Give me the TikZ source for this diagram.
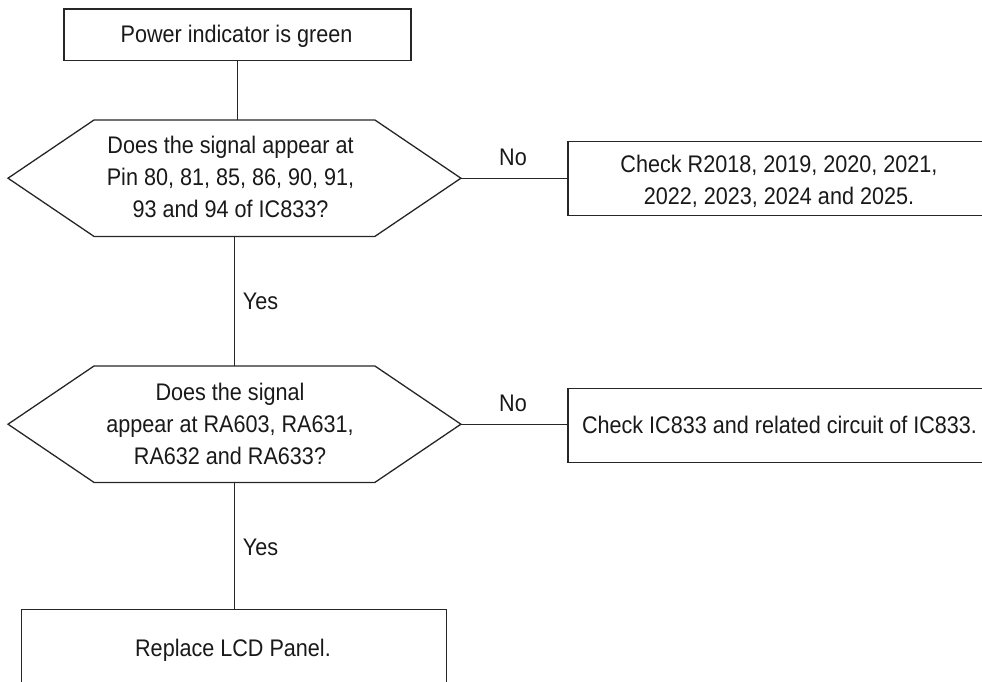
\documentclass[tikz,border=0pt]{standalone}
\usepackage{fontspec}
\setmainfont[FakeStretch=0.90]{Liberation Sans}
\usetikzlibrary{calc}
\tikzset{
  x=1pt,y=-1pt,
  line/.style={line width=1.3pt,draw=black!85},
  boxn/.style={line,rectangle,inner sep=0pt,anchor=north west},
  area/.style={inner sep=0pt,anchor=north west},
  txt/.style={font=\fontsize{24}{32}\selectfont,align=center,inner sep=0pt,text=black!90},
  one/.style={txt,anchor=base}
}
\begin{document}
\begin{tikzpicture}
\useasboundingbox (0,0) rectangle (982,682);
\clip (0,0) rectangle (982,682);
% boxes
\node[boxn,minimum width=347pt,minimum height=51.5pt] (top) at (63.3,8.5) {};
\node[boxn,minimum width=460pt,minimum height=74pt] (c1) at (567.3,141) {};
\node[boxn,minimum width=460pt,minimum height=74pt] (c2) at (567.3,387.7) {};
\node[boxn,minimum width=424.7pt,minimum height=120pt] (rep) at (21,609) {};
% decision areas
\node[area,minimum width=452.5pt,minimum height=116pt] (h1) at (8,120) {};
\node[area,minimum width=452.5pt,minimum height=116pt] (h2) at (8,366) {};
\draw[line,line join=miter] (h1.west) -- ($(h1.north west)+(86,0)$) -- ($(h1.north east)+(-86,0)$) -- (h1.east) -- ($(h1.south east)+(-86,0)$) -- ($(h1.south west)+(86,0)$) -- cycle;
\draw[line,line join=miter] (h2.west) -- ($(h2.north west)+(86,0)$) -- ($(h2.north east)+(-86,0)$) -- (h2.east) -- ($(h2.south east)+(-86,0)$) -- ($(h2.south west)+(86,0)$) -- cycle;
% connectors
\draw[line] (top.south) -- (top.south |- h1.north);
\draw[line] (h1.south) -- (h2.north);
\draw[line] (h2.south) -- (h2.south |- rep.north);
\draw[line] (h1.east) -- (h1.east -| c1.west);
\draw[line] (h2.east) -- (h2.east -| c2.west);
% text
\node[one] (t0) at (236.5,43) {Power indicator is green};
\node[txt] (t1) at (230.5,177) {Does the signal appear at\\Pin 80, 81, 85, 86, 90, 91,\\93 and 94 of IC833?};
\node[txt] (t2) at (230,424) {Does the signal\\appear at RA603, RA631,\\RA632 and RA633?};
\node[txt] (t3) at (779,181) {Check R2018, 2019, 2020, 2021,\\2022, 2023, 2024 and 2025.};
\node[one] (t4) at (779.5,433) {Check IC833 and related circuit of IC833.};
\node[one] (t5) at (233,656) {Replace LCD Panel.};
\node[one] (n1) at (513,165) {No};
\node[one] (n2) at (513,411) {No};
\node[one] (y1) at (260.5,309) {Yes};
\node[one] (y2) at (260.5,555) {Yes};
\end{tikzpicture}
\end{document}
